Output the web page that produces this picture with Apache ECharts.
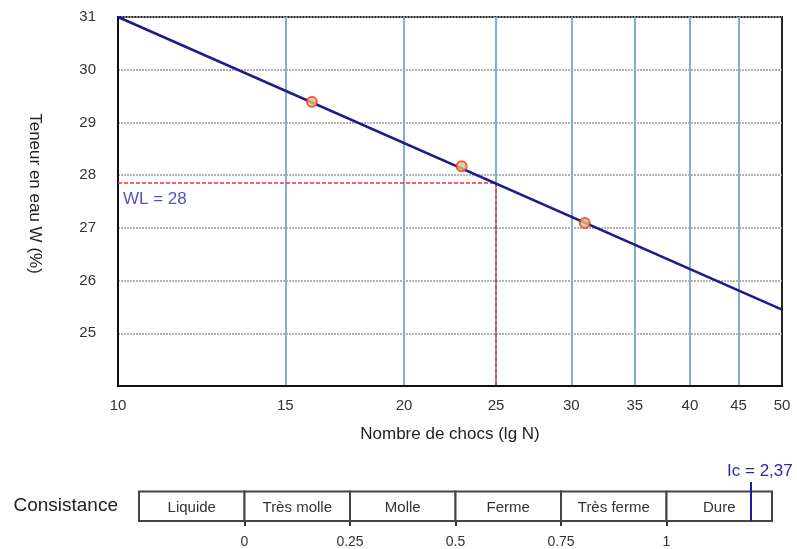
<!DOCTYPE html>
<html>
<head>
<meta charset="utf-8">
<script src="https://cdn.jsdelivr.net/npm/echarts@6/dist/echarts.min.js"></script>
<style>
  html, body { margin: 0; padding: 0; background: #fff; }
  #main { width: 797px; height: 549px; }
</style>
</head>
<body>
<div id="main"></div>
<script>
// donnees
var xTicks = [10, 15, 20, 25, 30, 35, 40, 45, 50];
var xGridLines = [15, 20, 25, 30, 35, 40, 45];
var fitN = [10, 50];
var fitW = [31, 25.45];
var pointsN = [16, 23, 31];
var pointsW = [29.39, 28.17, 27.09];
var wlN = 25;
var wlW = 27.85;
var wlText = 'WL = 28';

// bande de consistance
var consNames = ['Liquide', 'Très molle', 'Molle', 'Ferme', 'Très ferme', 'Dure'];
var consBounds = [-0.25, 0, 0.25, 0.5, 0.75, 1, 1.25];
var consTicks = [0, 0.25, 0.5, 0.75, 1];
var icPos = 1.2;
var icText = 'Ic = 2,37';

var font = 'Liberation Sans, Arial, sans-serif';
var chart = echarts.init(document.getElementById('main'));

var consAreas = consNames.map(function(n, i) {
    return [{ name: n, coord: [consBounds[i], 0] }, { coord: [consBounds[i + 1], 1] }];
});

var option = {
    animation: false,
    textStyle: { fontFamily: font },
    grid: [
        { left: 118, top: 17, right: 15, height: 369, show: true, borderColor: '#222', borderWidth: 2 },
        { left: 139, top: 482, right: 25, height: 41 }
    ],
    xAxis: [{
        type: 'log',
        logBase: 10,
        min: 10,
        max: 50,
        gridIndex: 0,
        name: 'Nombre de chocs (lg N)',
        nameLocation: 'middle',
        nameGap: 40,
        nameTextStyle: { color: '#222', fontSize: 17 },
        axisLine: { lineStyle: { color: '#111', width: 2 } },
        axisTick: { show: false },
        splitLine: { show: false },
        minorSplitLine: { show: false },
        axisLabel: { customValues: xTicks, color: '#333', fontSize: 15, margin: 12 }
    }, {
        type: 'value',
        gridIndex: 1,
        min: -0.25,
        max: 1.25,
        axisLine: { show: false },
        axisTick: { show: true, customValues: consTicks, inside: false, length: 5, lineStyle: { color: '#333', width: 2 } },
        splitLine: { show: false },
        axisLabel: { customValues: consTicks, color: '#333', fontSize: 14, margin: 14 }
    }],
    yAxis: [{
        type: 'value',
        gridIndex: 0,
        min: 24,
        max: 31,
        interval: 1,
        name: 'Teneur en eau W (%)',
        nameLocation: 'middle',
        nameRotate: -90,
        nameGap: 75,
        nameTextStyle: { color: '#222', fontSize: 17, padding: [0, 16, 0, 0] },
        axisLine: { lineStyle: { color: '#111', width: 2 } },
        axisTick: { show: false },
        axisLabel: {
            color: '#333', fontSize: 15, margin: 22,
            formatter: function(v) { return v === 24 ? '' : v; }
        },
        splitLine: { lineStyle: { color: '#999', type: [2, 1], width: 1.5 } }
    }, {
        type: 'value',
        gridIndex: 1,
        min: 0,
        max: 1.32,
        axisLine: { show: false },
        axisTick: { show: false },
        splitLine: { show: false },
        axisLabel: { customValues: [0.5], formatter: function() { return 'Consistance'; }, color: '#222', fontSize: 19, margin: 21 }
    }],
    series: [{
        // lignes verticales bleues
        type: 'line',
        xAxisIndex: 0,
        yAxisIndex: 0,
        data: [],
        z: 0,
        markLine: {
            silent: true,
            symbol: 'none',
            z: 0,
            label: { show: false },
            lineStyle: { color: '#7eaed4', width: 2, type: 'solid' },
            data: xGridLines.map(function(v) { return { xAxis: v }; })
        }
    }, {
        name: 'WL',
        type: 'line',
        xAxisIndex: 0,
        yAxisIndex: 0,
        symbol: 'none',
        z: 6,
        lineStyle: { color: '#ff2a2a', width: 1.5, type: [4, 2] },
        data: [[fitN[0], wlW], [wlN, wlW], [wlN, 24]]
    }, {
        name: 'Droite',
        type: 'line',
        xAxisIndex: 0,
        yAxisIndex: 0,
        symbol: 'none',
        z: 7,
        lineStyle: { color: '#1c1c8c', width: 2.5 },
        data: fitN.map(function(n, i) { return [n, fitW[i]]; })
    }, {
        name: 'Essais',
        type: 'scatter',
        xAxisIndex: 0,
        yAxisIndex: 0,
        symbol: 'circle',
        symbolSize: 10,
        z: 8,
        itemStyle: { color: '#d9c77a', borderColor: '#ff3322', borderWidth: 2 },
        data: pointsN.map(function(n, i) { return [n, pointsW[i]]; })
    }, {
        name: 'WLlabel',
        type: 'scatter',
        xAxisIndex: 0,
        yAxisIndex: 0,
        symbolSize: 0,
        z: 9,
        label: {
            show: true,
            position: 'right',
            offset: [0, 16],
            formatter: wlText,
            color: '#2a2aa6',
            fontSize: 17
        },
        data: [[fitN[0], wlW]]
    }, {
        name: 'Consistance',
        type: 'line',
        xAxisIndex: 1,
        yAxisIndex: 1,
        data: [],
        markArea: {
            silent: true,
            itemStyle: { color: '#fff', borderColor: '#444', borderWidth: 2 },
            label: { show: true, position: 'inside', color: '#333', fontSize: 15, offset: [0, 2] },
            data: consAreas
        },
        markLine: {
            silent: true,
            symbol: 'none',
            lineStyle: { color: '#1c1c9c', width: 2, type: 'solid' },
            label: { show: true, position: 'end', formatter: icText, color: '#2a2aa6', fontSize: 17, distance: 2, padding: [0, 0, 0, 18] },
            data: [[{ coord: [icPos, 0] }, { coord: [icPos, 1.32] }]]
        }
    }]
};

chart.setOption(option);
</script>
</body>
</html>
